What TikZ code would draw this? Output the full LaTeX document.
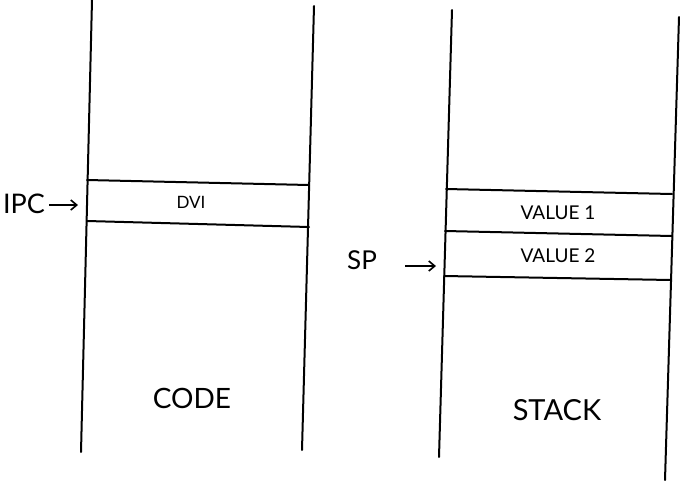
\documentclass[tikz,border=0pt]{standalone}
\usepackage{fontspec}
\setmainfont{Lato}
\usetikzlibrary{arrows.meta}
\begin{document}
\begin{tikzpicture}[x=1pt,y=-1pt,
  wall/.style={line width=2pt,line cap=round},
  lbl/.style={inner sep=0pt,anchor=center},
  ptr/.style={line width=1.6pt,-{Straight Barb[length=6pt,width=10pt,line width=1.6pt]}}]
\useasboundingbox (0,0) rectangle (680,480);
% columns
\coordinate (cl1) at (92,0);   \coordinate (cl2) at (81,452);
\coordinate (cr1) at (314,6);  \coordinate (cr2) at (302,450);
\coordinate (sl1) at (452,10); \coordinate (sl2) at (439,457);
\coordinate (sr1) at (679,17); \coordinate (sr2) at (665,480);
\draw[wall] (cl1) -- (cl2);
\draw[wall] (cr1) -- (cr2);
\draw[wall] (sl1) -- (sl2);
\draw[wall] (sr1) -- (sr2);
% code cell
\coordinate (d1) at (87,180);  \coordinate (d2) at (309,185);
\coordinate (d3) at (87,221);  \coordinate (d4) at (309,227);
\draw[wall] (d1) -- (d2);
\draw[wall] (d3) -- (d4);
% stack cells
\coordinate (s1) at (446,189); \coordinate (s2) at (672,194);
\coordinate (s3) at (445,231); \coordinate (s4) at (672,236);
\coordinate (s5) at (444,276); \coordinate (s6) at (671,280);
\draw[wall] (s1) -- (s2);
\draw[wall] (s3) -- (s4);
\draw[wall] (s5) -- (s6);
% labels
\node[lbl,font=\fontsize{17}{19}\selectfont] (dvi) at (191,202) {DVI};
\node[lbl,font=\fontsize{19}{21}\selectfont] (v1) at (558,213) {VALUE 1};
\node[lbl,font=\fontsize{19}{21}\selectfont] (v2) at (558,256) {VALUE 2};
\node[lbl,font=\fontsize{28}{30}\selectfont] (code) at (192,398) {CODE};
\node[lbl,font=\fontsize{29}{31}\selectfont] (stack) at (557,410) {STACK};
\node[lbl,font=\fontsize{27}{29}\selectfont] (ipc) at (24,204) {IPC};
\node[lbl,font=\fontsize{26}{28}\selectfont] (sp) at (362,260) {SP};
% pointers
\coordinate (ipcend) at (78,205);
\coordinate (spend) at (436,266);
\draw[ptr] (ipc.east) ++(4,1) -- (ipcend);
\draw[ptr] (405,266) -- (spend);
\end{tikzpicture}
\end{document}
